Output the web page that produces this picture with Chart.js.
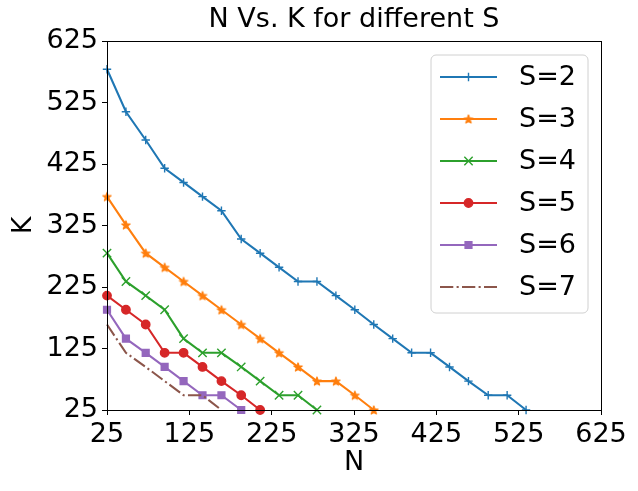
<!DOCTYPE html>
<html>
<head>
<meta charset="utf-8">
<script src="https://cdn.jsdelivr.net/npm/chart.js@4.4.0/dist/chart.umd.min.js"></script>
<style>
html, body { margin: 0; padding: 0; background: #fff; }
#wrap { width: 638px; height: 491px; }
</style>
</head>
<body>
<div id="wrap"><canvas id="chart" width="638" height="491"></canvas></div>
<script>
// N values shared by all series (each series just stops earlier)
const nValues = [25, 48, 72, 95, 118, 141, 164, 188, 211, 234, 257, 280, 303, 326, 349, 372, 395, 418, 441, 464, 488, 511, 534];

// K values per S
const kS2 = [579, 510, 464, 418, 395, 372, 349, 303, 280, 257, 234, 234, 211, 188, 164, 141, 118, 118, 95, 72, 49, 49, 25];
const kS3 = [372, 326, 280, 257, 234, 211, 188, 164, 141, 118, 95, 72, 72, 49, 25];
const kS4 = [280, 234, 211, 188, 141, 118, 118, 95, 72, 49, 49, 25];
const kS5 = [211, 188, 164, 118, 118, 95, 72, 49, 25];
const kS6 = [188, 141, 118, 95, 72, 49, 49, 25];
const kS7 = [164, 118, 95, 72, 49, 49, 25];

const seriesLabels = ['S=2', 'S=3', 'S=4', 'S=5', 'S=6', 'S=7'];
const xTicks = [25, 125, 225, 325, 425, 525, 625];
const yTicks = [25, 125, 225, 325, 425, 525, 625];

const FONT = 'DejaVu Sans';
const FS = 27;
const colors = ['#1f77b4', '#ff7f0e', '#2ca02c', '#d62728', '#9467bd', '#8c564b'];

// filled 5-point star like matplotlib '*'
function starImage(color) {
    const c = document.createElement('canvas');
    c.width = 14; c.height = 14;
    const g = c.getContext('2d');
    g.beginPath();
    for (let i = 0; i < 10; i++) {
        const r = i % 2 === 0 ? 4.4 : 1.7;
        const a = -Math.PI / 2 + i * Math.PI / 5;
        const px = 7 + r * Math.cos(a), py = 7.4 + r * Math.sin(a);
        if (i === 0) g.moveTo(px, py); else g.lineTo(px, py);
    }
    g.closePath();
    g.fillStyle = color;
    g.fill();
    g.lineWidth = 1.3;
    g.lineJoin = 'round';
    g.strokeStyle = color;
    g.stroke();
    return c;
}

const allK = [kS2, kS3, kS4, kS5, kS6, kS7];
const styles = [
    { pointStyle: 'cross', radius: 4.2 },
    { pointStyle: starImage(colors[1]), radius: 5 },
    { pointStyle: 'crossRot', radius: 5.9 },
    { pointStyle: 'circle', radius: 4.2 },
    { pointStyle: 'rect', radius: 4.8 },
    { pointStyle: false, radius: 0, dash: [13.3, 3.3, 2.1, 3.3] }
];

const datasets = allK.map((ks, i) => ({
    label: seriesLabels[i],
    data: ks.map((k, j) => ({ x: nValues[j], y: k })),
    borderColor: colors[i],
    backgroundColor: colors[i],
    pointBackgroundColor: colors[i],
    pointBorderColor: colors[i],
    borderWidth: 2.08,
    borderDash: styles[i].dash || [],
    borderCapStyle: 'butt',
    pointStyle: styles[i].pointStyle,
    pointRadius: styles[i].radius,
    pointBorderWidth: 1.4,
    pointHoverRadius: styles[i].radius,
    tension: 0,
    fill: false,
    clip: false,
    order: 6 - i
}));

// top/right spines + legend box inside the plot
const framePlugin = {
    id: 'frame',
    afterDatasetsDraw(chart) {
        const { ctx, chartArea: a } = chart;
        ctx.save();
        ctx.strokeStyle = '#000';
        ctx.lineWidth = 1;
        ctx.strokeRect(Math.round(a.left) + 0.5, Math.round(a.top) + 0.5,
            Math.round(a.right - a.left), Math.round(a.bottom - a.top));
        ctx.restore();
    }
};

const legendPlugin = {
    id: 'legendBox',
    afterDraw(chart) {
        const { ctx, chartArea: a } = chart;
        const w = 157, h = 258;
        const x = a.right - 13 - w, y = a.top + 14;
        const r = 5;
        ctx.save();
        ctx.beginPath();
        ctx.moveTo(x + r, y);
        ctx.lineTo(x + w - r, y);
        ctx.arcTo(x + w, y, x + w, y + r, r);
        ctx.lineTo(x + w, y + h - r);
        ctx.arcTo(x + w, y + h, x + w - r, y + h, r);
        ctx.lineTo(x + r, y + h);
        ctx.arcTo(x, y + h, x, y + h - r, r);
        ctx.lineTo(x, y + r);
        ctx.arcTo(x, y, x + r, y, r);
        ctx.closePath();
        ctx.fillStyle = 'rgba(255,255,255,0.8)';
        ctx.fill();
        ctx.strokeStyle = '#d0d0d0';
        ctx.lineWidth = 1;
        ctx.stroke();

        chart.data.datasets.forEach((ds, i) => {
            const ry = y + 22 + i * 42;
            ctx.save();
            ctx.strokeStyle = ds.borderColor;
            ctx.lineWidth = ds.borderWidth;
            ctx.lineCap = 'butt';
            ctx.setLineDash(ds.borderDash || []);
            ctx.beginPath();
            ctx.moveTo(x + 9, ry);
            ctx.lineTo(x + 66, ry);
            ctx.stroke();
            ctx.restore();
            if (ds.pointStyle && Chart.helpers && Chart.helpers.drawPoint) {
                ctx.save();
                ctx.fillStyle = ds.pointBackgroundColor;
                ctx.strokeStyle = ds.pointBorderColor;
                ctx.lineWidth = ds.pointBorderWidth;
                Chart.helpers.drawPoint(ctx, {
                    pointStyle: ds.pointStyle,
                    rotation: 0,
                    radius: ds.pointRadius,
                    borderWidth: ds.pointBorderWidth
                }, x + 37.5, ry);
                ctx.restore();
            }
            ctx.fillStyle = '#000';
            ctx.font = FS + 'px "' + FONT + '"';
            ctx.textBaseline = 'middle';
            ctx.textAlign = 'left';
            ctx.fillText(ds.label, x + 88, ry + 1);
        });
        ctx.restore();
    }
};

const axisBase = (ticks, title, titlePadding) => ({
    type: 'linear',
    min: 25,
    max: 625,
    afterBuildTicks(scale) { scale.ticks = ticks.map(v => ({ value: v })); },
    ticks: { color: '#000', font: { family: FONT, size: FS }, padding: 4, maxRotation: 0, autoSkip: false },
    grid: { drawOnChartArea: false, tickLength: 5, tickColor: '#000', tickWidth: 1 },
    border: { color: '#000', width: 1 },
    title: { display: true, text: title, color: '#000', font: { family: FONT, size: FS }, padding: titlePadding }
});

const xAxis = axisBase(xTicks, 'N', { top: 0, bottom: 12 });
xAxis.afterFit = scale => { scale.height = 81; };
const yAxis = axisBase(yTicks, 'K', { top: 8, bottom: 0 });
yAxis.afterFit = scale => { scale.width = 107; };

new Chart(document.getElementById('chart').getContext('2d'), {
    type: 'line',
    data: { datasets: datasets },
    options: {
        responsive: false,
        animation: false,
        layout: { padding: { left: 0, right: 37, top: 0, bottom: 0 } },
        plugins: {
            legend: { display: false },
            tooltip: { enabled: false },
            title: {
                display: true,
                text: 'N Vs. K for different S',
                color: '#000',
                fullSize: false,
                font: { family: FONT, size: FS, weight: 'normal' },
                padding: { top: 4, bottom: 4.6 }
            }
        },
        scales: { x: xAxis, y: yAxis }
    },
    plugins: [framePlugin, legendPlugin]
});
</script>
</body>
</html>
